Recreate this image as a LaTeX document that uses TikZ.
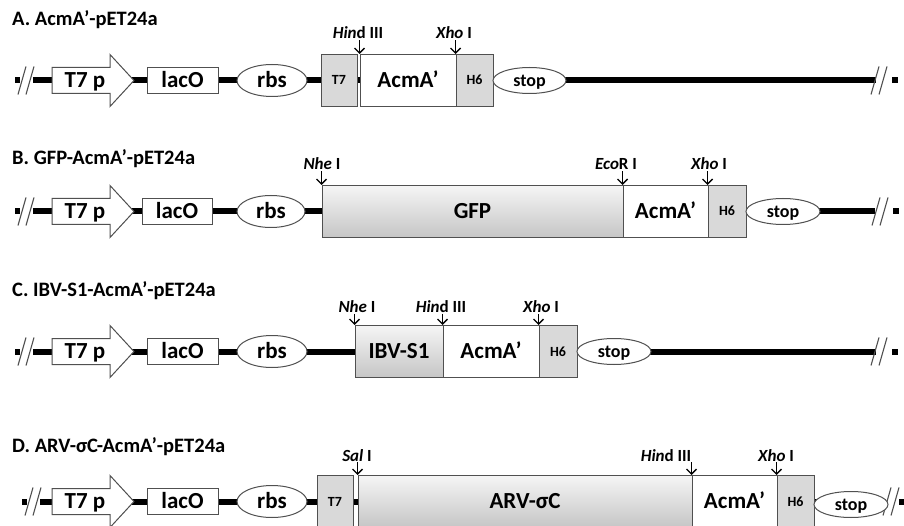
\documentclass[tikz,border=0pt]{standalone}
\usepackage{fontspec}
\setmainfont{Carlito}
\usetikzlibrary{arrows.meta,shapes.geometric}
\definecolor{bord}{RGB}{80,80,80}
\definecolor{hfill}{RGB}{217,217,217}
\tikzset{
  backbone/.style={line width=6pt, draw=black},
  cutline/.style={line width=1.1pt, draw=bord},
  endsq/.style={fill=black},
  prom/.style={draw=bord, line width=1pt, fill=white, line join=miter},
  txt/.style={font=\bfseries\fontsize{23}{23}\selectfont, inner sep=0pt, text height=14.5pt, text depth=0pt},
  smallbox/.style={txt, draw=bord, line width=1pt, fill=white, minimum height=26pt},
  bigbox/.style={txt, draw=bord, line width=1pt, fill=white, minimum height=52pt},
  tagbox/.style={bigbox, fill=hfill, font=\bfseries\fontsize{14}{14}\selectfont, text height=9pt},
  genebox/.style={bigbox, top color=gray!8, bottom color=gray!45},
  oval/.style={txt, ellipse, draw=bord, line width=1pt, fill=white},
  stopoval/.style={oval, font=\bfseries\fontsize{18}{18}\selectfont, text height=11.5pt, minimum height=26pt},
  site/.style={line width=1.4pt, draw=black, -{Straight Barb[length=5pt,width=10pt,line width=1.4pt]}},
  sitelab/.style={font=\bfseries\fontsize{17}{17}\selectfont, inner sep=1pt, anchor=base},
  rowtitle/.style={font=\bfseries\fontsize{20.5}{20.5}\selectfont, inner sep=0pt, anchor=base west},
}
\newcommand{\cutmark}[1]{%
  \draw[cutline] (#1,14) -- ++(8,-28);
  \draw[cutline] (#1+8,14) -- ++(8,-28);}
\newcommand{\leftpart}[5]{%
  \draw[prom] (52,-13) -- (110,-13) -- (110,-26) -- (134,0) -- (110,26) -- (110,13) -- (52,13) -- cycle;
  \node[txt] (#1prom) at (85,0) {T7 p};
  \node[smallbox, minimum width=#3] (#1lac) at (#2,0) {lacO};
  \node[oval, minimum width=#5, minimum height=32pt] (#1rbs) at (#4,0) {rbs};}
\begin{document}
\begin{tikzpicture}[x=1pt, y=-1pt]
\path[use as bounding box] (0,0) rectangle (904,526);
\clip (0,0) rectangle (904,526);
\fill[white] (0,0) rectangle (904,526);

% titles
\node[rowtitle] (tA) at (12,26) {A. AcmA’-pET24a};
\node[rowtitle] (tB) at (12,165) {B. GFP-AcmA’-pET24a};
\node[rowtitle] (tC) at (12,297) {C. IBV-S1-AcmA’-pET24a};
\node[rowtitle] (tD) at (12,452) {D. ARV-σC-AcmA’-pET24a};

% ---------------- Row A
\begin{scope}[yshift=-80.5pt]
\coordinate (aS) at (33,0); \coordinate (aE) at (876,0);
\fill[endsq] (15,-3) rectangle (19.5,3);
\draw[backbone] (aS) -- (aE);
\fill[endsq] (892,-3) rectangle (898,3);
\cutmark{18} \cutmark{871}
\leftpart{a}{182.5}{71pt}{272}{70pt}
\node[tagbox, minimum width=36pt] (aT7) at (339,0) {T7};
\node[bigbox, minimum width=96pt] (aAcm) at (408,0) {AcmA’};
\node[tagbox, minimum width=37pt] (aH6) at (474.5,0) {H6};
\node[stopoval, minimum width=73pt] (aStop) at (529.5,0) {stop};
\node[sitelab] (aHind) at (358,-41.5) {\textit{Hin}d III};
\draw[site] (aHind.south -| aAcm.north west) -- (aAcm.north west);
\node[sitelab] (aXho) at (454,-41.5) {\textit{Xho} I};
\draw[site] (aXho.south -| aH6.north west) -- (aH6.north west);
\end{scope}

% ---------------- Row B
\begin{scope}[yshift=-211.5pt]
\coordinate (bS) at (33,0); \coordinate (bE) at (875,0);
\fill[endsq] (15,-3) rectangle (19.5,3);
\draw[backbone] (bS) -- (bE);
\fill[endsq] (893,-3) rectangle (899,3);
\cutmark{18} \cutmark{872}
\leftpart{b}{177}{70pt}{271}{68pt}
\node[genebox, minimum width=301pt] (bGfp) at (472.5,0) {GFP};
\node[bigbox, minimum width=85pt] (bAcm) at (665.5,0) {AcmA’};
\node[tagbox, minimum width=38pt] (bH6) at (727,0) {H6};
\node[stopoval, minimum width=74pt] (bStop) at (783,0) {stop};
\node[sitelab] (bNhe) at (322,-41.5) {\textit{Nhe} I};
\draw[site] (bNhe.south -| bGfp.north west) -- (bGfp.north west);
\node[sitelab] (bEco) at (616,-41.5) {\textit{Eco}R I};
\draw[site] (bEco.south -| bAcm.north west) -- (bAcm.north west);
\node[sitelab] (bXho) at (709,-41.5) {\textit{Xho} I};
\draw[site] (bXho.south -| bH6.north west) -- (bH6.north west);
\end{scope}

% ---------------- Row C
\begin{scope}[yshift=-351.5pt]
\coordinate (cS) at (33,0); \coordinate (cE) at (876,0);
\fill[endsq] (15,-3) rectangle (19.5,3);
\draw[backbone] (cS) -- (cE);
\fill[endsq] (892,-3) rectangle (898,3);
\cutmark{18} \cutmark{871}
\leftpart{c}{182.5}{71pt}{272}{70pt}
\node[genebox, minimum width=88pt] (cIbv) at (399,0) {IBV-S1};
\node[bigbox, minimum width=96pt] (cAcm) at (491,0) {AcmA’};
\node[tagbox, minimum width=38pt] (cH6) at (558,0) {H6};
\node[stopoval, minimum width=74pt] (cStop) at (614,0) {stop};
\node[sitelab] (cNhe) at (357,-39) {\textit{Nhe} I};
\draw[site] (cNhe.south -| cIbv.north west) -- (cIbv.north west);
\node[sitelab] (cHind) at (441,-39) {\textit{Hin}d III};
\draw[site] (cHind.south -| cAcm.north west) -- (cAcm.north west);
\node[sitelab] (cXho) at (541,-39) {\textit{Xho} I};
\draw[site] (cXho.south -| cH6.north west) -- (cH6.north west);
\end{scope}

% ---------------- Row D
\begin{scope}[yshift=-501.5pt]
\coordinate (dS) at (40,0); \coordinate (dE) at (886,0);
\fill[endsq] (22,-3) rectangle (27,3);
\draw[backbone] (dS) -- (dE);
\fill[endsq] (899,-3) rectangle (904,3);
\cutmark{25} \cutmark{883}
\leftpart{d}{182.5}{71pt}{272}{70pt}
\node[tagbox, minimum width=36pt] (dT7) at (335,0) {T7};
\node[genebox, minimum width=334pt] (dArv) at (525,0) {ARV-σC};
\node[bigbox, minimum width=85pt] (dAcm) at (734.5,0) {AcmA’};
\node[tagbox, minimum width=37pt] (dH6) at (795.5,0) {H6};
\node[stopoval, minimum width=74pt] (dStop) at (851,3) {stop};
\node[sitelab] (dSal) at (357,-40.5) {\textit{Sal} I};
\draw[site] (dSal.south -| dArv.north west) -- (dArv.north west);
\node[sitelab] (dHind) at (666,-40.5) {\textit{Hin}d III};
\draw[site] (dHind.south -| dAcm.north west) -- (dAcm.north west);
\node[sitelab] (dXho) at (776,-40.5) {\textit{Xho} I};
\draw[site] (dXho.south -| dH6.north west) -- (dH6.north west);
\end{scope}
\end{tikzpicture}
\end{document}
